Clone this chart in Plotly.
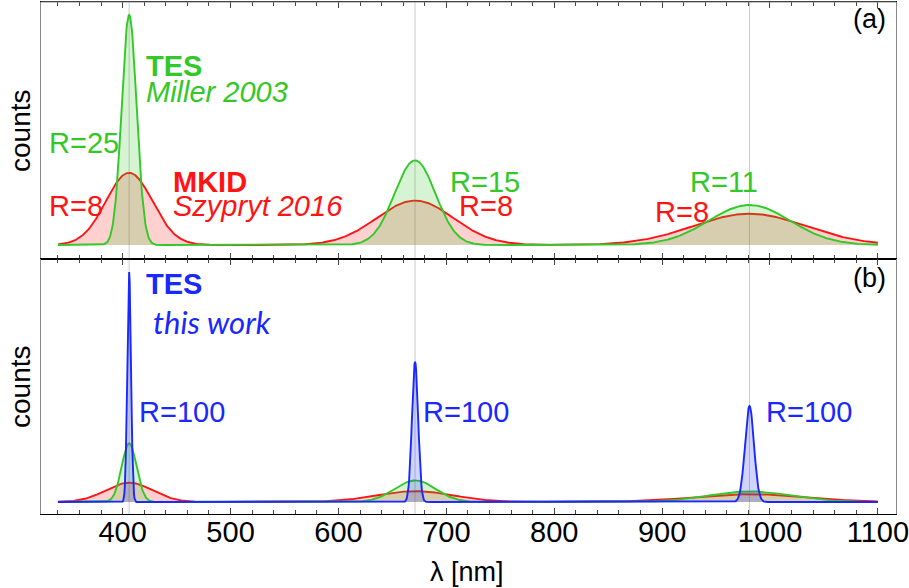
import numpy as np
import plotly.graph_objects as go

# ---------------- data ----------------
centers = [406, 671, 981]            # peak wavelengths [nm]
R_tes_miller = [25, 15, 11]          # resolving power, TES Miller 2003
R_mkid = [8, 8, 8]                   # resolving power, MKID Szypryt 2016
R_tes_this = [100, 100, 100]         # resolving power, TES this work

# peak heights (arbitrary counts units)
h_a_green = [100, 36.8, 17.4]
h_a_red = [31.4, 19.3, 13.6]
h_b_blue = [100, 61.0, 41.7]
h_b_green = [25.5, 9.4, 4.6]
h_b_red = [8.4, 4.7, 3.4]

x_min, x_max = 340, 1100
x_ticks = [400, 500, 600, 700, 800, 900, 1000, 1100]

# ---------------- helpers ----------------
lam = np.linspace(x_min, x_max, 1521)


def spectrum(heights, Rs):
    y = np.zeros_like(lam)
    for c, h, R in zip(centers, heights, Rs):
        fwhm = c / R
        y += h * np.exp(-4 * np.log(2) * (lam - c) ** 2 / fwhm ** 2)
    return y


GREEN = "rgb(50,200,40)"
RED = "rgb(255,20,20)"
BLUE = "rgb(25,40,255)"
GREEN_F = "rgba(50,200,40,0.2)"
RED_F = "rgba(255,20,20,0.2)"
BLUE_F = "rgba(25,40,255,0.2)"

fig = go.Figure()

for xa, ya, series in [
    ("x", "y", [(h_a_red, R_mkid, RED, RED_F), (h_a_green, R_tes_miller, GREEN, GREEN_F)]),
    ("x2", "y2", [(h_b_red, R_mkid, RED, RED_F), (h_b_green, R_tes_miller, GREEN, GREEN_F),
                  (h_b_blue, R_tes_this, BLUE, BLUE_F)]),
]:
    for h, R, col, fcol in series:
        fig.add_trace(go.Scatter(
            x=lam, y=spectrum(h, R), mode="lines", xaxis=xa, yaxis=ya,
            line=dict(color=col, width=1.9), fill="tozeroy", fillcolor=fcol,
            showlegend=False, hoverinfo="skip"))

# ---------------- layout ----------------
W, H = 909, 588
L, Rm, T, B = 41, 13, 2, 74
px_l, px_r, py_t, py_b = L, W - Rm, T, H - B
split = 259


def xp(px):
    return (px - px_l) / (px_r - px_l)


def yp(py):
    return (py_b - py) / (py_b - py_t)


dom_split = yp(split)
scale = 2.3  # px per count unit
base_a, base_b = 245, 502

axis_common = dict(
    range=[324.3, 1116.8], tickvals=x_ticks, ticks="inside", ticklen=6,
    tickcolor="#444", showline=True, linecolor="black", linewidth=1.2,
    mirror="ticks", showgrid=False, zeroline=False, automargin=False,
    minor=dict(dtick=20, tick0=0, ticks="inside", ticklen=4, tickcolor="#444", showgrid=False),
)

fig.update_layout(
    width=W, height=H, margin=dict(l=L, r=Rm, t=T, b=B, autoexpand=False),
    paper_bgcolor="white", plot_bgcolor="white",
    font=dict(family="Liberation Sans, Arial, sans-serif", color="black"),
    xaxis=dict(axis_common, anchor="y", showticklabels=False, matches="x2"),
    xaxis2=dict(axis_common, anchor="y2", showticklabels=True, ticklabeloverflow="allow",
                tickfont=dict(size=29, family="Liberation Sans, Arial"), ticklabelstandoff=-8),
    yaxis=dict(domain=[dom_split, 1], range=[(base_a - split) / scale, (base_a - py_t) / scale],
               showticklabels=False, ticks="", showgrid=False, zeroline=False, automargin=False,
               showline=True, linecolor="#888", linewidth=1.2, mirror=True),
    yaxis2=dict(domain=[0, dom_split], range=[(base_b - py_b) / scale, (base_b - split) / scale],
                showticklabels=False, ticks="", showgrid=False, zeroline=False, automargin=False,
                showline=True, linecolor="#888", linewidth=1.2, mirror=True),
)

shapes = []
for c in centers:
    shapes.append(dict(type="line", xref="x", yref="paper", x0=c, x1=c, y0=0, y1=1,
                       line=dict(color="rgba(190,190,190,0.8)", width=1), layer="below"))
shapes.append(dict(type="line", xref="paper", yref="paper", x0=0, x1=1, y0=1, y1=1,
                   line=dict(color="#888", width=1.2), layer="above"))
fig.update_layout(shapes=shapes)

ann = []


def text(t, px, py, color, size=29, bold=False, italic=False, family=None, xanchor="left", angle=0):
    s = t
    if bold:
        s = "<b>" + s + "</b>"
    if italic:
        s = "<i>" + s + "</i>"
    f = dict(size=size, color=color)
    if family:
        f["family"] = family
    ann.append(dict(text=s, x=xp(px), y=yp(py), xref="paper", yref="paper",
                    xanchor=xanchor, yanchor="middle", showarrow=False, font=f,
                    textangle=angle))


# panel (a)
text("TES", 144, 66, GREEN, bold=True)
text("Miller 2003", 144, 92, GREEN, italic=True)
text("R=25", 47, 143, GREEN)
text("MKID", 171, 182, RED, bold=True)
text("Szypryt 2016", 171, 206, RED, italic=True)
text("R=8", 47, 206, RED)
text("R=15", 448, 182, GREEN)
text("R=8", 457, 206, RED)
text("R=11", 688, 182, GREEN)
text("R=8", 653, 212, RED)
text("(a)", 851, 19, "black", size=27)
# panel (b)
text("TES", 144, 284, BLUE, bold=True)
text("this work", 151, 322, BLUE, italic=True, family="Lato, Open Sans, sans-serif", size=31)
text("R=100", 137, 412, BLUE)
text("R=100", 421, 412, BLUE)
text("R=100", 764, 412, BLUE)
text("(b)", 851, 278, "black", size=27)
# axis titles
text("counts", 20, 131, "black", size=28, xanchor="center", angle=-90)
text("counts", 20, 387, "black", size=28, xanchor="center", angle=-90)
text("λ [nm]", 467, 572, "black", size=27, xanchor="center")
fig.update_layout(annotations=ann)

fig.write_html("out.html", config={"displayModeBar": False},
               post_script="document.body.style.margin='0';document.body.style.overflow='hidden';")
